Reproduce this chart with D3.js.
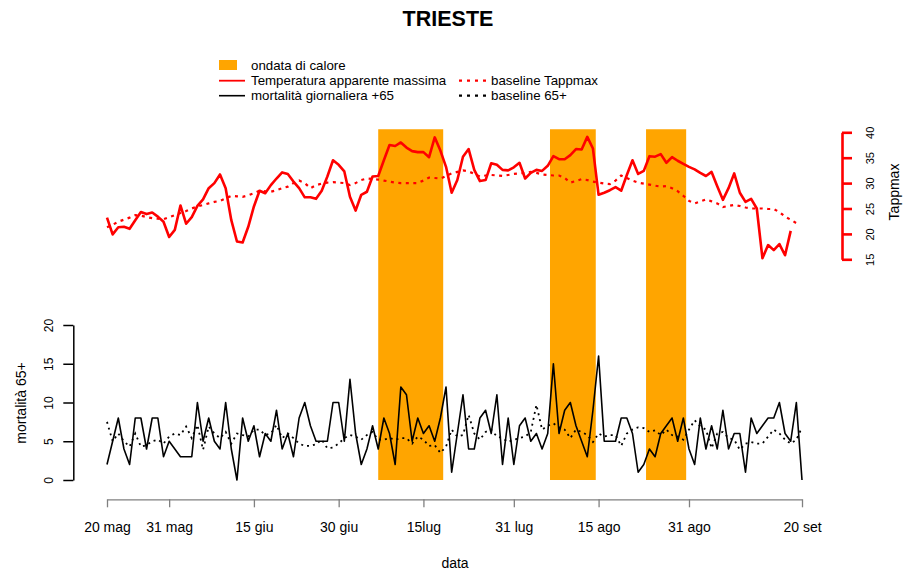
<!DOCTYPE html>
<html><head><meta charset="utf-8">
<script src="https://cdn.jsdelivr.net/npm/d3@7"></script>
<style>
body{margin:0;background:#fff}
text{font-family:"Liberation Sans",Arial,Helvetica,sans-serif;fill:#000}
</style>
</head><body>
<svg id="chart" width="911" height="576"></svg>
<script>
// ---------- data ----------
const startDate = "2015-05-20";
const endDate = "2015-09-20";
// daily apparent max temperature from 20 May
const tappmax = [23.2,19.9,21.3,21.4,21.0,22.7,24.3,23.9,24.2,23.4,
  22.4,19.4,20.8,25.6,22.0,23.3,25.5,26.8,29.0,30.0,
  31.7,29.0,22.7,18.5,18.3,21.4,25.4,28.5,28.0,29.6,
  30.9,32.1,31.8,30.3,29.0,27.2,27.2,26.9,28.5,31.3,
  34.5,33.6,32.3,27.3,24.6,27.7,28.3,31.3,31.4,34.5,
  37.5,37.3,38.0,37.0,36.3,36.1,36.1,35.1,39.0,36.4,
  33.2,28.1,30.6,35.2,36.7,32.6,30.4,30.6,33.9,33.6,
  32.6,32.5,33.1,34.0,30.9,32.0,32.6,32.4,33.4,35.3,
  34.7,34.7,35.5,36.7,36.6,39.1,36.8,27.7,28.1,28.6,
  29.2,28.5,31.6,34.5,31.8,32.4,35.3,35.2,35.7,34.0,
  35.1,34.4,33.8,33.2,32.7,32.0,31.4,32.2,29.4,26.7,
  29.0,31.9,28.1,26.3,26.9,25.0,15.2,17.8,16.8,18.0,
  15.8,20.6];
const baselineTappmax = [21.3,21.8,22.4,22.8,23.2,23.7,23.6,23.3,23.1,23.0,
  22.9,23.3,23.7,24.1,24.5,25.0,25.4,25.7,26.0,26.3,
  26.5,27.0,27.5,27.4,27.3,27.6,28.0,28.5,28.4,28.3,
  28.6,29.0,29.3,30.0,30.5,30.0,29.0,29.6,29.9,30.1,
  30.2,30.1,30.0,29.6,30.0,30.6,30.9,30.8,30.7,30.5,
  30.3,30.1,30.0,30.0,30.0,30.0,30.5,31.1,31.0,30.9,
  31.4,31.9,32.2,32.5,32.3,31.8,31.3,31.5,31.6,31.5,
  31.4,31.6,31.8,31.9,32.0,32.2,32.0,31.7,31.6,31.5,
  31.5,31.0,30.1,30.4,30.8,30.6,30.3,30.1,29.9,29.8,
  30.5,31.5,31.0,30.5,30.1,29.9,29.7,29.5,29.3,29.4,
  29.0,28.4,27.5,26.5,26.0,26.4,26.8,26.4,26.0,25.3,
  25.5,25.7,25.5,25.2,25.0,25.0,25.0,24.9,24.9,24.3,
  23.4,22.8,22.1];
// daily deaths 65+
const mortality = [2,5,8,4,2,8,8,4,8,8,
  3,5,4,3,3,3,10,5,8,5,
  4,10,4,0,8,5,7,3,6,5,
  9,4,6,3,8,10,7,5,5,5,
  10,10,5,13,6,2,4,7,4,8,
  6,2,12,11,5,8,6,7,5,8,
  12,1,6,11,4,4,8,9,6,11,
  2,8,2,7,8,5,6,4,6,15,
  6,9,10,7,5,3,9,16,5,5,
  5,8,8,6,1,2,4,3,6,7,
  8,5,8,4,2,8,4,7,4,9,
  4,6,6,1,8,6,7,8,8,10,
  6,5,10,0];
const baseline65 = [7.5,5,6,5,4.3,6,4.3,4.5,5,5.2,
  4.7,5.6,6,5.8,6.9,5.4,7.1,3.9,6.9,6,
  5.4,6.2,4.7,6,5.8,5.6,6.5,6.5,5.8,6,
  7.1,5.4,6,5.4,4.7,4.4,4.4,4.6,5.2,4.1,
  4.2,4.7,5.4,5.8,5.6,5.2,5.8,6.2,5.2,5.2,
  5.4,5.2,5.4,5.4,4.7,5.6,5.2,4.4,4.5,3.5,
  4.3,6.5,5.6,5.8,8.4,6,5.2,6.2,6.5,5.6,
  5.4,4.9,5.2,5.4,5.6,6.2,9.7,6.5,7,7.3,
  6.8,6.5,5.4,6.5,6.2,5.8,4.9,6,5.6,5.8,
  5.8,4.4,6,6.5,6.8,6.7,6.2,6.4,5.8,6.5,
  5.8,5.6,5.2,6.5,7.7,6.9,6.5,4.1,6,6.2,
  5.4,5.2,3.9,4.7,4.9,4.7,4.7,5.6,6.5,6,
  5.2,4.7,5.2,6.8];
// heat waves (days from 20 May)
const heatWaveStart = [48, 78.4, 95.4];
const heatWaveEnd = [59.5, 86.5, 102.5];
// axis ticks
const tickDates = ["2015-05-20","2015-05-31","2015-06-15","2015-06-30","2015-07-15","2015-07-31","2015-08-15","2015-08-31","2015-09-20"];
const tickLabels = ["20 mag","31 mag","15 giu","30 giu","15lug","31 lug","15 ago","31 ago","20 set"];
const tappTicks = [15,20,25,30,35,40];
const mortTicks = [0,5,10,15,20];

// ---------- drawing ----------
const svg = d3.select("#chart");
svg.append("rect").attr("width",911).attr("height",576).attr("fill","#fff");
const parse = d3.utcParse("%Y-%m-%d");
const t0 = parse(startDate);
const dayDate = d => new Date(t0.getTime() + d*86400000);

const x = d3.scaleUtc().domain([parse(startDate), parse(endDate)]).range([107, 802]);
const yT = d3.scaleLinear().domain([15,40]).range([259.3,132.3]);
const yM = d3.scaleLinear().domain([0,20]).range([480,325]);

// heat wave bands
svg.append("g").selectAll("rect").data(heatWaveStart.map((s,i)=>[s,heatWaveEnd[i]]))
  .join("rect")
  .attr("x", d=>x(dayDate(d[0])))
  .attr("width", d=>x(dayDate(d[1]))-x(dayDate(d[0])))
  .attr("y", yT(40.6))
  .attr("height", yM(0)-yT(40.6))
  .attr("fill","#FFA500");

const lineT = d3.line().x((v,i)=>x(dayDate(i))).y(v=>yT(v));
const lineM = d3.line().x((v,i)=>x(dayDate(i))).y(v=>yM(v));

svg.append("path").attr("d", lineT(baselineTappmax)).attr("fill","none")
  .attr("stroke","#FF0000").attr("stroke-width",2.2).attr("stroke-dasharray","3,4.5");
svg.append("path").attr("d", lineT(tappmax)).attr("fill","none")
  .attr("stroke","#FF0000").attr("stroke-width",2.6).attr("stroke-linejoin","round");
svg.append("path").attr("d", lineM(baseline65)).attr("fill","none")
  .attr("stroke","#000").attr("stroke-width",1.8).attr("stroke-dasharray","2,4");
svg.append("path").attr("d", lineM(mortality)).attr("fill","none")
  .attr("stroke","#000").attr("stroke-width",1.6).attr("stroke-linejoin","round");

// x axis
const xAxis = svg.append("g").attr("transform","translate(0,499.3)")
  .call(d3.axisBottom(x).tickValues(tickDates.map(parse))
    .tickFormat((d,i)=>tickLabels[i]).tickSize(8).tickSizeOuter(0));
xAxis.select(".domain").attr("stroke","#808080").attr("stroke-width",1.3);
xAxis.selectAll(".tick line").attr("stroke","#808080").attr("stroke-width",1.3);
xAxis.selectAll(".tick text").attr("y",33).attr("dy",0)
  .style("font-size","14px").attr("fill","#000");

// left axis
const lAxis = svg.append("g").attr("transform","translate(73.3,0)")
  .call(d3.axisLeft(yM).tickValues(mortTicks).tickSize(10).tickSizeOuter(0));
lAxis.select(".domain").attr("stroke","#000").attr("stroke-width",1.5);
lAxis.selectAll(".tick line").attr("stroke","#000").attr("stroke-width",1.5);
lAxis.selectAll(".tick text").attr("x",0).attr("dy",0)
  .attr("transform","translate(-20,0) rotate(-90)").attr("text-anchor","middle")
  .style("font-size","12px").attr("fill","#000");

// right axis
const rAxis = svg.append("g").attr("transform","translate(842,0)")
  .call(d3.axisRight(yT).tickValues(tappTicks).tickSize(10).tickSizeOuter(0));
rAxis.select(".domain").attr("stroke","#FF0000").attr("stroke-width",2.6);
rAxis.selectAll(".tick line").attr("stroke","#FF0000").attr("stroke-width",2.6);
rAxis.selectAll(".tick text").attr("x",0).attr("dy",0)
  .attr("transform","translate(32,0) rotate(-90)").attr("text-anchor","middle")
  .style("font-size","11px").attr("fill","#000");

// axis titles
svg.append("text").attr("x",455).attr("y",568).attr("text-anchor","middle")
  .style("font-size","14px").text("data");
svg.append("text").attr("transform","translate(26,403) rotate(-90)").attr("text-anchor","middle")
  .style("font-size","14px").text("mortalità 65+");
svg.append("text").attr("transform","translate(899,192) rotate(-90)").attr("text-anchor","middle")
  .style("font-size","14px").text("Tappmax");

// title
svg.append("text").attr("x",448).attr("y",26).attr("text-anchor","middle")
  .style("font-size","21.5px").style("font-weight","bold").text("TRIESTE");

// legend
const lg = svg.append("g");
lg.append("rect").attr("x",219).attr("y",60).attr("width",18).attr("height",10).attr("fill","#FFA500");
lg.append("text").attr("x",251).attr("y",69.7).style("font-size","13.3px").text("ondata di calore");
lg.append("line").attr("x1",219).attr("x2",245).attr("y1",80.7).attr("y2",80.7).attr("stroke","#FF0000").attr("stroke-width",1.8);
lg.append("text").attr("x",251).attr("y",85.4).style("font-size","13.3px").text("Temperatura apparente massima");
lg.append("line").attr("x1",219).attr("x2",245).attr("y1",95.7).attr("y2",95.7).attr("stroke","#000").attr("stroke-width",1.6);
lg.append("text").attr("x",251).attr("y",100.4).style("font-size","13.3px").text("mortalità giornaliera +65");
lg.append("line").attr("x1",459).attr("x2",487).attr("y1",80.7).attr("y2",80.7).attr("stroke","#FF0000").attr("stroke-width",2.2).attr("stroke-dasharray","3,5");
lg.append("text").attr("x",491).attr("y",85.4).style("font-size","13.3px").text("baseline Tappmax");
lg.append("line").attr("x1",459).attr("x2",487).attr("y1",95.7).attr("y2",95.7).attr("stroke","#000").attr("stroke-width",2.2).attr("stroke-dasharray","3,5");
lg.append("text").attr("x",491).attr("y",100.4).style("font-size","13.3px").text("baseline 65+");
</script>
</body></html>
